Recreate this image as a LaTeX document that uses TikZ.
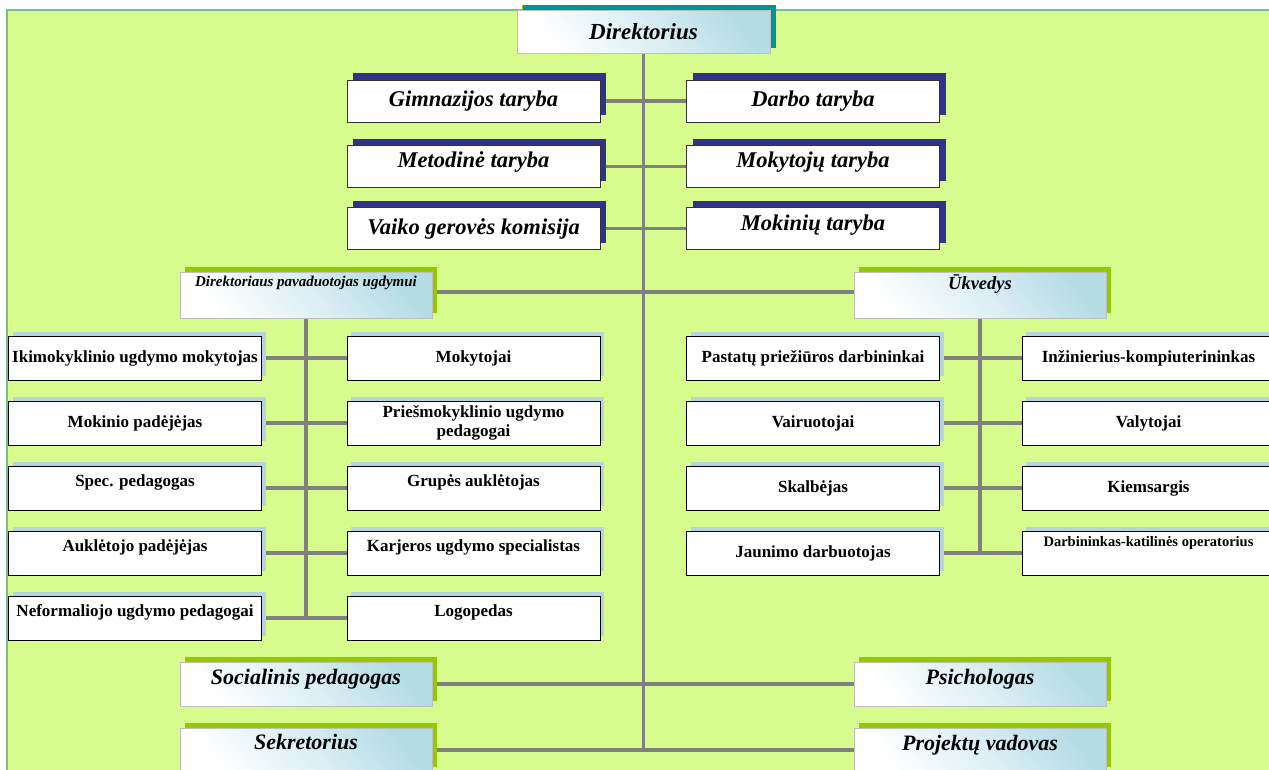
\documentclass[tikz,border=0pt]{standalone}
\usepackage{fontspec}
\setmainfont{Liberation Serif}
\usetikzlibrary{shadows,backgrounds}
\definecolor{bggreen}{RGB}{216,251,141}
\definecolor{edgegreen}{RGB}{120,190,145}
\definecolor{navysh}{RGB}{48,50,140}
\definecolor{tealsh}{RGB}{0,150,150}
\definecolor{limesh}{RGB}{150,200,0}
\definecolor{bluesh}{RGB}{180,212,228}
\definecolor{boxblue}{RGB}{180,220,230}
\definecolor{linegray}{RGB}{128,128,128}
\tikzset{
  conn/.style={draw=linegray, line width=3.8pt},
  tdepth/.style={text depth=#1},
  council/.style={draw=black!80, line width=0.8pt, fill=white,
    minimum width=253pt, minimum height=42pt, inner sep=0pt, align=center,
    font=\fontsize{22.5}{25}\selectfont\bfseries\itshape,
    general shadow={fill=navysh, shadow xshift=6pt, shadow yshift=7pt}},
  grad/.style={draw=black!25, line width=0.6pt, top color=boxblue, bottom color=white,
    middle color=white!55!boxblue, shading angle=-50,
    minimum width=252pt, minimum height=44pt, inner sep=0pt, align=center,
    general shadow={fill=limesh, shadow xshift=5pt, shadow yshift=5pt}},
  subbox/.style={draw=black, line width=0.8pt, fill=white,
    minimum width=253pt, minimum height=44pt, inner sep=0pt, align=center,
    font=\fontsize{17}{19}\selectfont\bfseries,
    general shadow={fill=bluesh, shadow xshift=4pt, shadow yshift=4pt}},
}
\begin{document}
\begin{tikzpicture}[x=1pt,y=-1pt]
\useasboundingbox (0,0) rectangle (1269,769);

% top level
\node[grad, minimum width=253pt, minimum height=43pt,
  general shadow={fill=tealsh, shadow xshift=6pt, shadow yshift=5pt},
  font=\fontsize{23}{25}\selectfont\bfseries\itshape] (dir) at (643.5,31.5) {Direktorius};

% councils
\node[council] (gim) at (473.5,101) {Gimnazijos taryba};
\node[council] (darbo) at (813,101) {Darbo taryba};
\node[council, tdepth=14pt] (met) at (473.5,166.5) {Metodinė taryba};
\node[council, tdepth=14pt] (mokyt) at (813,166.5) {Mokytojų taryba};
\node[council] (vaiko) at (473.5,228.5) {Vaiko gerovės komisija};
\node[council, tdepth=12pt] (mokin) at (813,228.5) {Mokinių taryba};

% deputies
\node[grad, minimum height=46pt, tdepth=28pt,
  font=\fontsize{15}{17}\selectfont\bfseries\itshape] (dep) at (306,295) {Direktoriaus pavaduotojas ugdymui};
\node[grad, minimum height=46pt, tdepth=26pt,
  font=\fontsize{18.5}{20}\selectfont\bfseries\itshape] (uk) at (980,295) {Ūkvedys};

% left sub boxes
\node[subbox] (iki) at (135,358) {Ikimokyklinio ugdymo mokytojas};
\node[subbox] (mokyt2) at (473.5,358) {Mokytojai};
\node[subbox] (mpad) at (135,423) {Mokinio padėjėjas};
\node[subbox] (pries) at (473.5,423) {Priešmokyklinio ugdymo\\pedagogai};
\node[subbox, tdepth=14pt] (spec) at (135,488) {Spec. pedagogas};
\node[subbox, tdepth=14pt] (grup) at (473.5,488) {Grupės auklėtojas};
\node[subbox, tdepth=14pt] (aukl) at (135,553) {Auklėtojo padėjėjas};
\node[subbox, tdepth=14pt] (karj) at (473.5,553) {Karjeros ugdymo specialistas};
\node[subbox, tdepth=14pt] (nef) at (135,618) {Neformaliojo ugdymo pedagogai};
\node[subbox, tdepth=14pt] (logo) at (473.5,618) {Logopedas};

% right sub boxes
\node[subbox] (past) at (813,358) {Pastatų priežiūros darbininkai};
\node[subbox] (inz) at (1148.5,358) {Inžinierius-kompiuterininkas};
\node[subbox] (vair) at (813,423) {Vairuotojai};
\node[subbox] (valyt) at (1148.5,423) {Valytojai};
\node[subbox] (skalb) at (813,488) {Skalbėjas};
\node[subbox] (kiem) at (1148.5,488) {Kiemsargis};
\node[subbox] (jaun) at (813,553) {Jaunimo darbuotojas};
\node[subbox, tdepth=24pt, font=\fontsize{14.5}{16}\selectfont\bfseries] (katil) at (1148.5,553) {Darbininkas-katilinės operatorius};

% bottom
\node[grad, tdepth=14pt, font=\fontsize{22}{24}\selectfont\bfseries\itshape] (soc) at (306,684) {Socialinis pedagogas};
\node[grad, tdepth=14pt, font=\fontsize{22}{24}\selectfont\bfseries\itshape] (psich) at (980,684) {Psichologas};
\node[grad, tdepth=16pt, font=\fontsize{22}{24}\selectfont\bfseries\itshape] (sek) at (306,750) {Sekretorius};
\node[grad, tdepth=14pt, font=\fontsize{22}{24}\selectfont\bfseries\itshape] (proj) at (980,750) {Projektų vadovas};

\begin{scope}[on background layer]
  \fill[white] (0,0) rectangle (1269,769);
  \filldraw[fill=bggreen, draw=edgegreen, line width=1.5pt] (7,10) rectangle (1285,790);
  % main trunk
  \draw[conn] (dir.south) -- (dir.south |- proj.west);
  \draw[conn] (gim.east) -- (darbo.west);
  \draw[conn] (met.east) -- (mokyt.west);
  \draw[conn] (vaiko.east) -- (mokin.west);
  \draw[conn] ([yshift=3pt]dep.east) -- ([yshift=3pt]uk.west);
  \draw[conn] (soc.east) -- (psich.west);
  \draw[conn] (sek.east) -- (proj.west);
  % left branch
  \draw[conn] (dep.south) -- (dep.south |- nef.east);
  \draw[conn] (iki.east) -- (mokyt2.west);
  \draw[conn] (mpad.east) -- (pries.west);
  \draw[conn] (spec.east) -- (grup.west);
  \draw[conn] (aukl.east) -- (karj.west);
  \draw[conn] (nef.east) -- (logo.west);
  % right branch
  \draw[conn] (uk.south) -- (uk.south |- jaun.east);
  \draw[conn] (past.east) -- (inz.west);
  \draw[conn] (vair.east) -- (valyt.west);
  \draw[conn] (skalb.east) -- (kiem.west);
  \draw[conn] (jaun.east) -- (katil.west);
\end{scope}
\end{tikzpicture}
\end{document}
